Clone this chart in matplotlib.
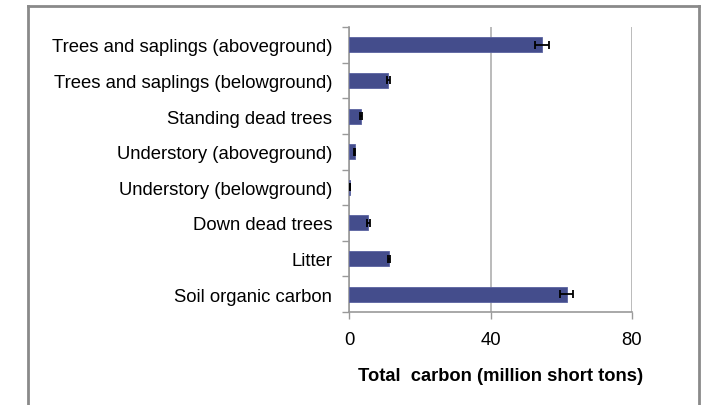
import matplotlib
matplotlib.use("Agg")
import matplotlib.pyplot as plt
from matplotlib.lines import Line2D

plt.rcParams['font.family'] = ['Liberation Sans', 'DejaVu Sans']

pools = ['Trees and saplings (aboveground)', 'Trees and saplings (belowground)',
         'Standing dead trees', 'Understory (aboveground)', 'Understory (belowground)',
         'Down dead trees', 'Litter', 'Soil organic carbon']
carbon = [54.6, 11.1, 3.4, 1.6, 0.2, 5.5, 11.3, 61.5]
err = [2.0, 0.4, 0.3, 0.2, 0.05, 0.3, 0.4, 1.8]
xticks = [0, 40, 80]

fig = plt.figure(figsize=(7.04, 4.06), dpi=100)
ax = fig.add_axes([349 / 704, 1 - 313 / 406, (632 - 349) / 704, (313 - 28) / 406])

ypos = list(range(len(pools)))
ax.barh(ypos, carbon, height=0.42, color='#444d8c', edgecolor='#5a63a0', linewidth=0.6,
        xerr=err, error_kw=dict(ecolor='black', elinewidth=1.3, capsize=3, capthick=1.3), zorder=3)

ax.set_ylim(len(pools) - 0.5, -0.5)
ax.set_xlim(0, 80)
ax.set_yticks(ypos)
ax.set_yticklabels(pools, fontsize=13.3)
ax.set_yticks([i - 0.5 for i in range(len(pools) + 1)], minor=True)
ax.tick_params(axis='y', which='major', length=0, pad=12)
ax.tick_params(axis='y', which='minor', length=5, color='#999999', width=1)
ax.set_xticks(xticks)
ax.set_xticklabels([str(t) for t in xticks], fontsize=13.3)
ax.tick_params(axis='x', length=5, color='#999999', width=1, pad=9)

ax.grid(axis='x', color='#b5b5b5', linewidth=1.3, zorder=0)
ax.spines['top'].set_visible(False)
ax.spines['right'].set_visible(False)
ax.spines['left'].set_color('#999999')
ax.spines['bottom'].set_color('#999999')
ax.spines['left'].set_linewidth(1.2)
ax.spines['bottom'].set_linewidth(1.2)

fig.text(501 / 704, 1 - 377 / 406, 'Total  carbon (million short tons)', ha='center', va='center',
         fontsize=13.2, fontweight='bold')

# outer frame, open at the bottom
fx0, fx1, fy = 28 / 704, 699 / 704, 1 - 7 / 406
for xs, ys in [([fx0, fx0], [0, fy]), ([fx0, fx1], [fy, fy]), ([fx1, fx1], [fy, 0])]:
    fig.add_artist(Line2D(xs, ys, color='#8a8a8a', linewidth=2))

fig.savefig('out.png', dpi=100)
